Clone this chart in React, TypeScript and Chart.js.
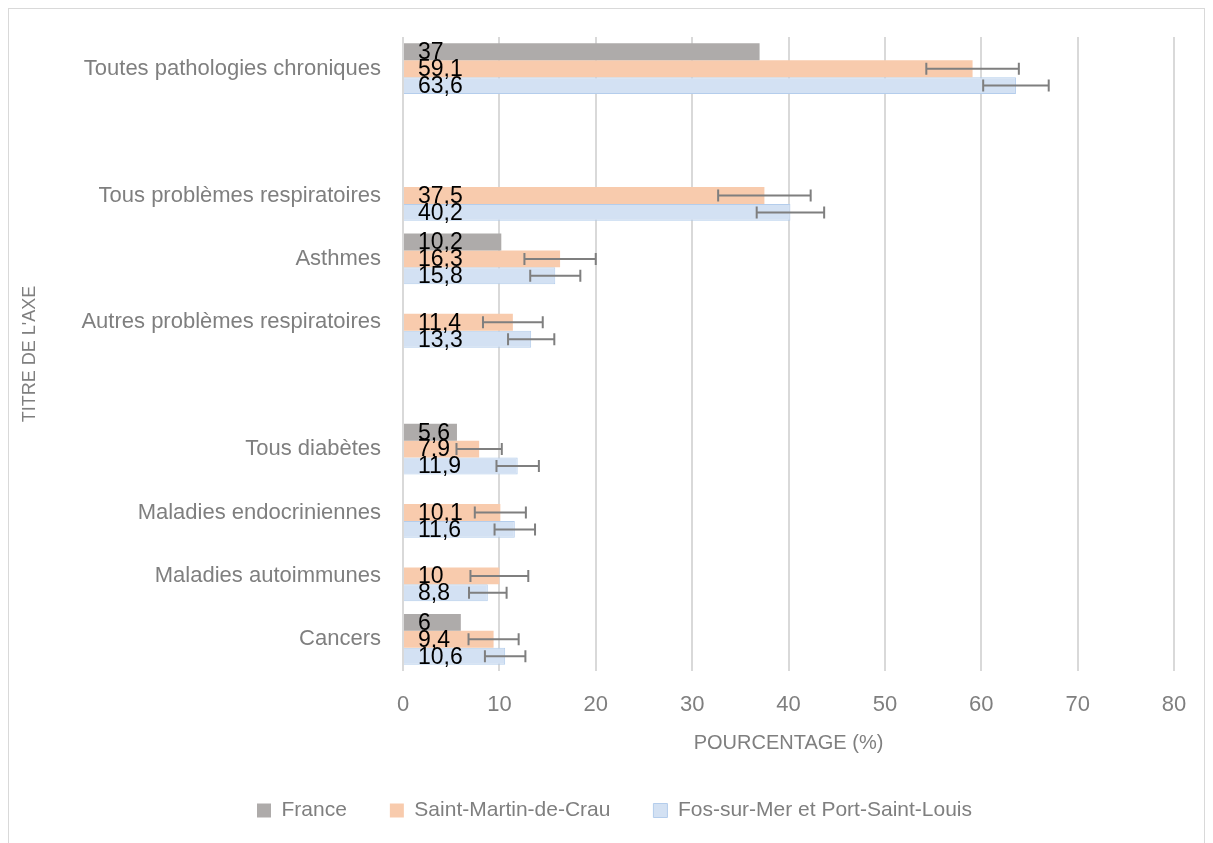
import React, { useEffect, useRef } from "react";
import { Chart, registerables } from "chart.js";

Chart.register(...registerables);

const categories = [
  "Toutes pathologies chroniques",
  "",
  "Tous problèmes respiratoires",
  "Asthmes",
  "Autres problèmes respiratoires",
  "",
  "Tous diabètes",
  "Maladies endocriniennes",
  "Maladies autoimmunes",
  "Cancers",
];
const seriesNames = ["France", "Saint-Martin-de-Crau", "Fos-sur-Mer et Port-Saint-Louis"];
const france = [37, null, null, 10.2, null, null, 5.6, null, null, 6];
const saintMartin = [59.1, null, 37.5, 16.3, 11.4, null, 7.9, 10.1, 10, 9.4];
const fos = [63.6, null, 40.2, 15.8, 13.3, null, 11.9, 11.6, 8.8, 10.6];
const saintMartinErr = [4.8, null, 4.8, 3.7, 3.1, null, 2.35, 2.65, 3.0, 2.6];
const fosErr = [3.4, null, 3.5, 2.6, 2.4, null, 2.2, 2.1, 1.95, 2.1];
const xMin = 0;
const xMax = 80;
const xStep = 10;

const FONT = '"Liberation Sans Narrow", "Liberation Sans", sans-serif';
const GRAY_TEXT = "#7f7f7f";
const GRID = "#d9d9d9";

const errorBarsPlugin = {
  id: "errorBars",
  afterDatasetsDraw(chart: any) {
    const ctx = chart.ctx;
    const xs = chart.scales.x;
    const errs: Record<number, (number | null)[]> = { 1: saintMartinErr, 2: fosErr };
    ctx.save();
    ctx.strokeStyle = "#7f7f7f";
    ctx.lineWidth = 2;
    Object.keys(errs).forEach((k) => {
      const di = Number(k);
      const meta = chart.getDatasetMeta(di);
      const data = chart.data.datasets[di].data as (number | null)[];
      meta.data.forEach((el: any, i: number) => {
        const v = data[i];
        const e = errs[di][i];
        if (v == null || e == null) return;
        const x1 = xs.getPixelForValue(v - e);
        const x2 = xs.getPixelForValue(v + e);
        const y = el.y;
        const cap = 6;
        ctx.beginPath();
        ctx.moveTo(x1, y);
        ctx.lineTo(x2, y);
        ctx.moveTo(x1, y - cap);
        ctx.lineTo(x1, y + cap);
        ctx.moveTo(x2, y - cap);
        ctx.lineTo(x2, y + cap);
        ctx.stroke();
      });
    });
    ctx.restore();
  },
};

const dataLabelsPlugin = {
  id: "dataLabels",
  afterDatasetsDraw(chart: any) {
    const ctx = chart.ctx;
    const xs = chart.scales.x;
    ctx.save();
    ctx.fillStyle = "#000000";
    ctx.font = `23px ${FONT}`;
    ctx.textAlign = "left";
    ctx.textBaseline = "middle";
    chart.data.datasets.forEach((ds: any, di: number) => {
      const meta = chart.getDatasetMeta(di);
      meta.data.forEach((el: any, i: number) => {
        const v = ds.data[i];
        if (v == null) return;
        const txt = String(v).replace(".", ",");
        ctx.fillText(txt, xs.getPixelForValue(0) + 15, el.y + 1);
      });
    });
    ctx.restore();
  },
};

const legendShiftPlugin = {
  id: "legendShift",
  afterLayout(chart: any) {
    const l = chart.legend;
    if (l) {
      l.left += 18;
      l.right += 18;
    }
  },
};

export default function App() {
  const ref = useRef<HTMLCanvasElement | null>(null);

  useEffect(() => {
    if (!ref.current) return;
    const chart = new Chart(ref.current, {
      type: "bar",
      data: {
        labels: categories,
        datasets: [
          {
            label: seriesNames[0],
            data: france,
            backgroundColor: "#aeabaa",
            borderWidth: 0,
          },
          {
            label: seriesNames[1],
            data: saintMartin,
            backgroundColor: "#f8cbad",
            borderWidth: 0,
          },
          {
            label: seriesNames[2],
            data: fos,
            backgroundColor: "#d3e1f3",
            borderColor: "#b4cdec",
            borderWidth: 1,
          },
        ],
      },
      options: {
        indexAxis: "y",
        animation: false,
        responsive: true,
        maintainAspectRatio: false,
        events: [],
        datasets: { bar: { barPercentage: 1, categoryPercentage: 0.8 } },
        layout: { padding: { top: 28, right: 30, left: 10, bottom: 20 } },
        plugins: {
          tooltip: { enabled: false },
          legend: {
            position: "bottom",
            labels: {
              color: GRAY_TEXT,
              font: { family: FONT, size: 21 },
              boxWidth: 14,
              boxHeight: 14,
              padding: 43,
            },
          },
        },
        scales: {
          x: {
            min: xMin,
            max: xMax,
            afterFit: (s: any) => {
              s.height = 86;
              s.paddingLeft = 0;
              s.paddingRight = 0;
            },
            ticks: {
              stepSize: xStep,
              color: GRAY_TEXT,
              font: { family: FONT, size: 22 },
              padding: 21,
            },
            grid: { color: GRID, lineWidth: 2, drawTicks: false },
            border: { display: false },
            title: {
              display: true,
              text: "POURCENTAGE (%)",
              color: GRAY_TEXT,
              font: { family: FONT, size: 20 },
              padding: { top: 0, bottom: 2 },
            },
          },
          y: {
            afterFit: (s: any) => {
              s.width = 384;
              s.paddingTop = 0;
              s.paddingBottom = 0;
            },
            ticks: {
              color: GRAY_TEXT,
              font: { family: FONT, size: 22 },
              padding: 22,
              autoSkip: false,
            },
            grid: { display: false, drawTicks: false },
            border: { display: false },
            title: {
              display: true,
              text: "TITRE DE L'AXE",
              color: GRAY_TEXT,
              font: { family: FONT, size: 18 },
              padding: { top: 0, bottom: 0 },
            },
          },
        },
      },
      plugins: [errorBarsPlugin, dataLabelsPlugin, legendShiftPlugin],
    });
    return () => chart.destroy();
  }, []);

  return (
    <div
      style={{
        width: 1195,
        height: 842,
        border: "1px solid #d9d9d9",
        background: "#ffffff",
        position: "relative",
      }}
    >
      <canvas ref={ref} />
    </div>
  );
}
